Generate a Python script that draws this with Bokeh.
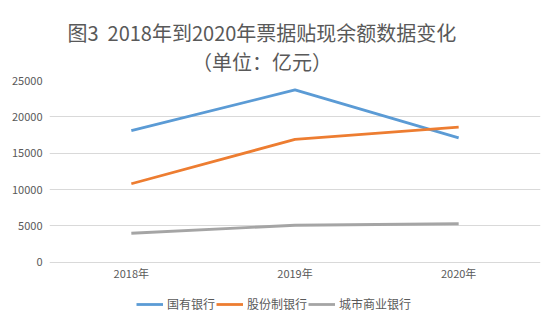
from bokeh.plotting import figure
from bokeh.models import Range1d, FixedTicker, Legend, LegendItem, Title
from bokeh.embed import file_html
from bokeh.resources import INLINE

years = ["2018年", "2019年", "2020年"]
state_banks = [18100, 23700, 17100]
joint_stock_banks = [10800, 16900, 18600]
city_banks = [4000, 5100, 5300]
series_names = ["国有银行", "股份制银行", "城市商业银行"]
colors = ["#5b9bd5", "#ed7d31", "#a5a5a5"]
y_ticks = [0, 5000, 10000, 15000, 20000, 25000]
title_line1 = "图3\u00a0\u00a02018年到2020年票据贴现余额数据变化"
title_line2 = "\u3000\u3000\u3000\u3000\u3000\u3000\u00a0（单位：亿元）"

FONT = "Noto Sans CJK SC"
TXT = "#595959"

# y range extends below zero to leave room (inside the frame) for category labels and legend
p = figure(frame_width=491, frame_height=240, x_range=years, y_range=Range1d(-8000, 25000),
           output_backend="svg", toolbar_location=None,
           min_border_left=49, min_border_right=15, min_border_bottom=4, min_border_top=80)
p.title = Title(text=title_line1 + "\n" + title_line2, align="left", offset=18, text_font=FONT,
                text_font_size="20px", text_color=TXT, text_font_style="normal", standoff=10)
p.outline_line_color = None
p.background_fill_color = "white"
p.border_fill_color = "white"

renderers = []
for vals, c in zip([state_banks, joint_stock_banks, city_banks], colors):
    r = p.line(years, vals, line_color=c, line_width=2.8)
    renderers.append(r)

p.yaxis.ticker = FixedTicker(ticks=y_ticks)
p.yaxis.axis_line_color = None
p.yaxis.major_tick_line_color = None
p.yaxis.minor_tick_line_color = None
p.yaxis.major_tick_out = 0
p.yaxis.major_tick_in = 0
p.yaxis.major_label_text_font = FONT
p.yaxis.major_label_text_font_size = "11px"
p.yaxis.major_label_text_color = TXT
p.yaxis.major_label_standoff = 7

p.xaxis.fixed_location = 0
p.xaxis.axis_line_color = None
p.xaxis.major_tick_line_color = None
p.xaxis.major_tick_out = 0
p.xaxis.major_tick_in = 0
p.xaxis.major_label_text_font = FONT
p.xaxis.major_label_text_font_size = "11px"
p.xaxis.major_label_text_color = TXT
p.xaxis.major_label_standoff = 3

p.xgrid.grid_line_color = None
p.ygrid.grid_line_color = "#d9d9d9"
p.ygrid.grid_line_width = 1

legend = Legend(items=[LegendItem(label=n, renderers=[r]) for n, r in zip(series_names, renderers)],
                orientation="horizontal", location=(87, 8),
                label_text_font=FONT, label_text_font_size="12px", label_text_color=TXT,
                glyph_width=27, glyph_height=10, label_standoff=4, spacing=1,
                border_line_color=None, background_fill_alpha=0,
                padding=4, margin=0)
p.add_layout(legend, "center")

open("out.html", "w").write(file_html(p, INLINE))
